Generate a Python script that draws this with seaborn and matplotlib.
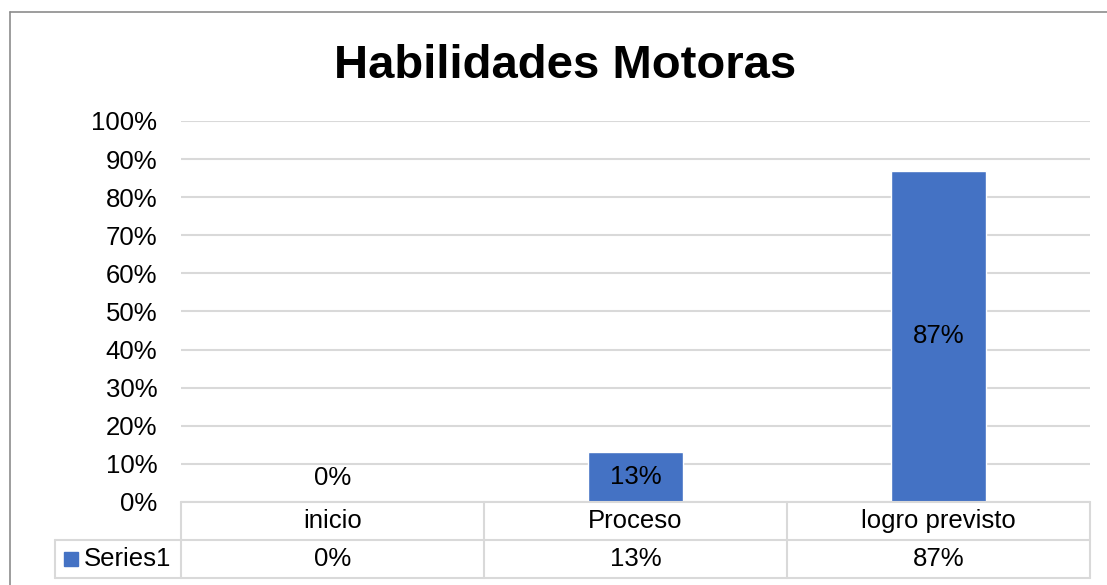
import matplotlib
matplotlib.use('Agg')
import matplotlib.pyplot as plt
import seaborn as sns
import pandas as pd
from matplotlib.lines import Line2D

# data
categorias = ['inicio', 'Proceso', 'logro previsto']
valores = [0.00, 0.13, 0.87]
etiquetas = ['0%', '13%', '87%']
serie = 'Series1'
titulo = 'Habilidades Motoras'
yticks = [0, 0.1, 0.2, 0.3, 0.4, 0.5, 0.6, 0.7, 0.8, 0.9, 1.0]
ytick_labels = ['0%', '10%', '20%', '30%', '40%', '50%', '60%', '70%', '80%', '90%', '100%']

azul = '#4472C4'
gris = '#D9D9D9'
fs = 18.5

sns.set_style('white')
plt.rcParams['font.family'] = ['Liberation Sans', 'DejaVu Sans']
plt.rcParams['text.color'] = 'black'
plt.rcParams['ytick.color'] = 'black'
plt.rcParams['ytick.labelcolor'] = 'black'

df = pd.DataFrame({'cat': categorias, 'val': valores})

fig = plt.figure(figsize=(11.07, 5.85), dpi=100)
ax = fig.add_axes([0.1635, 0.1419, 0.8211, 0.6513])

sns.barplot(data=df, x='cat', y='val', color=azul, width=0.315, saturation=1, ax=ax)

ax.set_xlim(-0.5, 2.5)
ax.set_ylim(0, 1)
ax.set_yticks(yticks)
ax.set_yticklabels(ytick_labels, fontsize=fs, color='black')
ax.tick_params(axis='y', length=0, pad=17)
ax.set_xticks([])
ax.set_xlabel('')
ax.set_ylabel('')
for s in ax.spines.values():
    s.set_visible(False)
ax.yaxis.grid(True, color=gris, linewidth=1.5)
ax.set_axisbelow(True)

# etiquetas de datos
for i, v in enumerate(valores):
    ax.text(i, max(v / 2, 0.063), etiquetas[i], ha='center', va='center', fontsize=fs)

# tabla de datos debajo del eje
fila = 0.1
kw = dict(color=gris, linewidth=1.5, clip_on=False)
ax.plot([-0.5, 2.5], [0, 0], **kw)
ax.plot([-0.916, 2.5], [-fila, -fila], **kw)
ax.plot([-0.916, 2.5], [-2 * fila, -2 * fila], **kw)
ax.plot([-0.916, -0.916], [-fila, -2 * fila], **kw)
for xb in [-0.5, 0.5, 1.5, 2.5]:
    ax.plot([xb, xb], [0, -2 * fila], **kw)
for i, c in enumerate(categorias):
    ax.text(i, -fila / 2, c, ha='center', va='center', fontsize=fs)
    ax.text(i, -1.5 * fila, etiquetas[i], ha='center', va='center', fontsize=fs)
ax.plot([-0.863], [-1.5 * fila], marker='s', markersize=10, color=azul, clip_on=False)
ax.text(-0.82, -1.5 * fila, serie, ha='left', va='center', fontsize=fs)

# titulo
fig.text(0.5104, 1 - 78 / 585, titulo, ha='center', va='baseline', fontsize=34, fontweight='bold')

# borde del grafico
borde = '#8C8C8C'
fig.add_artist(Line2D([10 / 1107, 10 / 1107], [0, 1 - 12 / 585], color=borde, linewidth=1.2))
fig.add_artist(Line2D([10 / 1107, 1], [1 - 12 / 585, 1 - 12 / 585], color=borde, linewidth=1.2))

fig.savefig('out.png', dpi=100)
